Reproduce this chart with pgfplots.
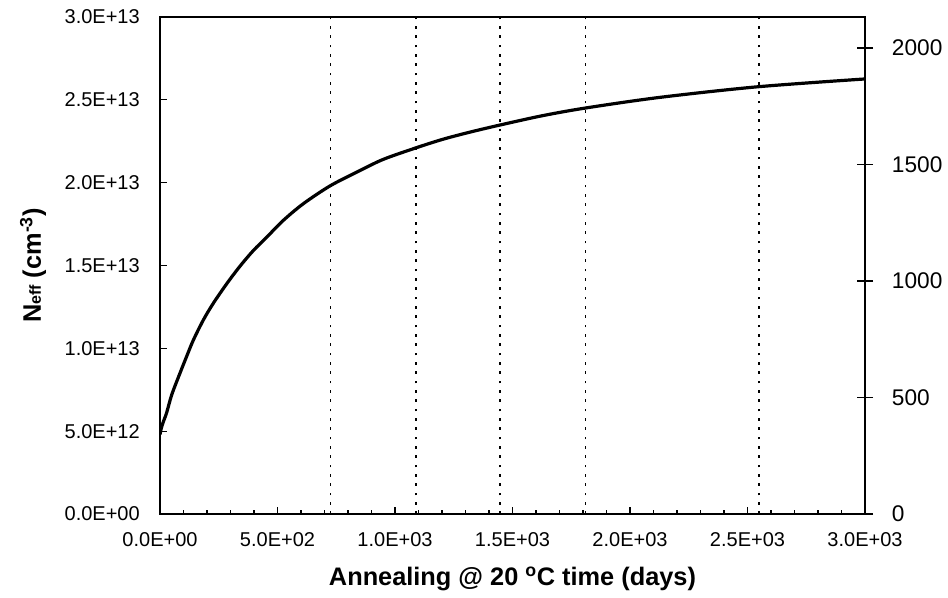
\documentclass[border=0pt]{standalone}
\usepackage{fontspec}
\setmainfont{Liberation Sans}
\usepackage{pgfplots}
\pgfplotsset{compat=1.18}
\pgfplotstableread{
day N
0 4.8e12
6 5.2e12
15 5.6e12
28 6.1e12
50 7.2e12
85 8.5e12
113 9.5e12
142 1.05e13
184 1.17e13
226 1.27e13
284 1.39e13
340 1.495e13
397 1.59e13
455 1.672e13
523 1.770e13
609 1.872e13
723 1.980e13
838 2.064e13
949 2.140e13
1089 2.210e13
1204 2.262e13
1319 2.305e13
1447 2.348e13
1630 2.405e13
1817 2.452e13
2128 2.515e13
2545 2.579e13
3000 2.626e13
}\neffdata
\begin{document}
\begin{tikzpicture}[x=1pt,y=1pt]
\useasboundingbox (-120,-63) rectangle (591,385.5);
\begin{axis}[
  at={(0,0)}, anchor=south west,
  scale only axis, width=528.75pt, height=372.75pt,
  xmin=0, xmax=3000, ymin=0, ymax=3e13,
  scaled ticks=false,
  xtick={0,500,...,3000},
  xticklabels={0.0E+00,5.0E+02,1.0E+03,1.5E+03,2.0E+03,2.5E+03,3.0E+03},
  minor x tick num=4,
  ytick={0,5e12,1e13,1.5e13,2e13,2.5e13,3e13},
  yticklabels={0.0E+00,5.0E+12,1.0E+13,1.5E+13,2.0E+13,2.5E+13,3.0E+13},
  xtick pos=bottom, ytick pos=left,
  tick align=inside,
  major tick length=5pt, minor tick length=3pt,
  tick style={black, line width=0.8pt},
  axis line style={black, line width=1.2pt},
  ticklabel style={font=\fontsize{15}{15}\selectfont},
  xticklabel style={inner sep=0pt, yshift=-13.5pt},
  yticklabel style={inner sep=0pt, xshift=-15pt},
  xlabel={Annealing @ 20 \textsuperscript{o}C time (days)},
  xlabel style={at={(axis description cs:0.5,-0.13)}, anchor=center,
    font=\bfseries\fontsize{19}{19}\selectfont},
  ylabel={N{\fontsize{12}{12}\selectfont eff} (cm\textsuperscript{-3})},
  ylabel style={at={(axis description cs:-0.18,0.5)}, anchor=center,
    font=\bfseries\fontsize{19}{19}\selectfont},
]
\addplot[ycomb, black, line width=1.1pt, dash pattern=on 2pt off 5pt, no marks]
  coordinates {(725,3e13) (1090,3e13) (1447,3e13) (1810,3e13) (2548,3e13)};
\addplot[black, line width=2.4pt, smooth, no marks] table[x=day, y=N] {\neffdata};
\end{axis}
\begin{axis}[
  at={(0,0)}, anchor=south west,
  scale only axis, width=528.75pt, height=372.75pt,
  xmin=0, xmax=3000, ymin=0, ymax=2133,
  axis x line=none, axis y line*=right,
  ytick={0,500,1000,1500,2000},
  yticklabels={0,500,1000,1500,2000},
  tick align=center, major tick length=12pt,
  tick style={black, line width=0.8pt},
  axis line style={black, line width=1.2pt},
  yticklabel style={font=\fontsize{17}{17}\selectfont, inner sep=0pt, xshift=14pt},
]
\addplot[draw=none] coordinates {(0,0) (3000,2000)};
\end{axis}
\end{tikzpicture}
\end{document}
